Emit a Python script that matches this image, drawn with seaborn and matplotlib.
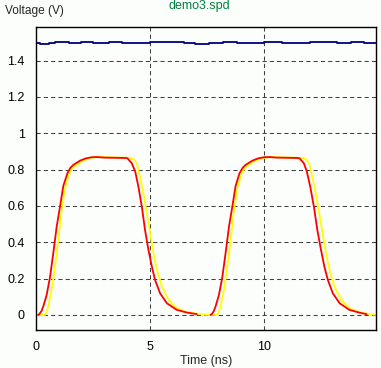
import numpy as np
import pandas as pd
import seaborn as sns
import matplotlib
matplotlib.use("Agg")
import matplotlib.pyplot as plt

# Red trace (two pulses)
red_t1 = [0.11, 0.16, 0.25, 0.33, 0.48, 0.63, 0.77, 0.92, 1.07, 1.21, 1.39, 1.52, 1.65, 1.94,
          2.20, 2.45, 2.70, 3.00, 3.50, 3.95, 4.02, 4.21, 4.36, 4.50, 4.65, 4.79, 4.94, 5.09,
          5.23, 5.45, 5.75, 6.18, 6.62, 7.06]
red_v1 = [0.0, 0.005, 0.02, 0.046, 0.11, 0.21, 0.34, 0.486, 0.60, 0.71, 0.78, 0.81, 0.826, 0.849,
          0.862, 0.868, 0.869, 0.866, 0.865, 0.864, 0.862, 0.835, 0.79, 0.706, 0.596, 0.468, 0.358, 0.266,
          0.193, 0.119, 0.064, 0.028, 0.013, 0.004]
red_t2 = [7.66, 7.72, 7.80, 7.88, 8.03, 8.18, 8.32, 8.47, 8.62, 8.76, 8.93, 9.07, 9.20, 9.49,
          9.75, 10.00, 10.25, 10.55, 11.05, 11.50, 11.56, 11.75, 11.88, 12.03, 12.19, 12.34, 12.50, 12.65,
          12.80, 13.02, 13.32, 13.74, 14.17, 14.50]
red_v2 = [0.0, 0.005, 0.02, 0.046, 0.11, 0.21, 0.34, 0.486, 0.60, 0.71, 0.78, 0.81, 0.826, 0.849,
          0.862, 0.868, 0.869, 0.866, 0.865, 0.864, 0.862, 0.835, 0.79, 0.706, 0.596, 0.468, 0.358, 0.266,
          0.193, 0.119, 0.064, 0.028, 0.013, 0.004]

# Yellow trace
yel_t = [0.0, 0.41, 0.48, 0.55, 0.70, 0.85, 0.99, 1.14, 1.29, 1.47, 1.62, 1.80, 2.00, 2.24, 2.50,
         2.75, 3.20, 3.70, 4.10, 4.28, 4.43, 4.57, 4.72, 4.87, 5.01, 5.16, 5.31, 5.53, 5.82, 6.18,
         6.62, 7.20, 7.50, 7.94, 8.02, 8.10, 8.25, 8.40, 8.54, 8.69, 8.84, 9.02, 9.17, 9.35, 9.55,
         9.79, 10.05, 10.30, 10.75, 11.25, 11.65, 11.83, 11.98, 12.12, 12.27, 12.42, 12.57, 12.72,
         12.87, 13.09, 13.38, 13.74, 14.17, 14.60, 14.93]
yel_v = [0.0, 0.0, 0.015, 0.046, 0.14, 0.27, 0.41, 0.58, 0.70, 0.78, 0.81, 0.826, 0.845, 0.857, 0.866,
         0.87, 0.868, 0.866, 0.865, 0.858, 0.835, 0.76, 0.67, 0.56, 0.45, 0.34, 0.248, 0.156, 0.083, 0.037,
         0.015, 0.005, 0.0, 0.0, 0.015, 0.046, 0.14, 0.27, 0.41, 0.58, 0.70, 0.78, 0.81, 0.826, 0.845,
         0.857, 0.866, 0.87, 0.868, 0.866, 0.865, 0.858, 0.835, 0.76, 0.67, 0.56, 0.45, 0.34,
         0.248, 0.156, 0.083, 0.037, 0.015, 0.005, 0.0]

# Blue trace (supply, ~1.5 V)
blue_t = [0, 0.2, 0.6, 0.85, 1.45, 2.0, 2.5, 3.2, 3.8, 4.5, 5.0, 5.8, 6.5, 7.0, 7.6, 8.2, 8.8,
          9.5, 10.0, 10.8, 11.4, 12.0, 12.6, 13.2, 13.8, 14.4, 14.93]
blue_v = [1.495, 1.49, 1.495, 1.50, 1.495, 1.50, 1.495, 1.50, 1.495, 1.495, 1.50, 1.50, 1.495, 1.49,
          1.495, 1.50, 1.495, 1.495, 1.50, 1.495, 1.495, 1.50, 1.50, 1.495, 1.50, 1.495, 1.495]

y_ticks = [0, 0.2, 0.4, 0.6, 0.8, 1, 1.2, 1.4]
y_labels = ["0", "0.2", "0.4", "0.6", "0.8", "1", "1.2", "1.4"]
x_ticks = [0, 5, 10]

red_df = pd.DataFrame({
    "t": red_t1 + red_t2,
    "v": red_v1 + red_v2,
    "seg": [1] * len(red_t1) + [2] * len(red_t2),
})
yel_df = pd.DataFrame({"t": yel_t, "v": yel_v})
blue_df = pd.DataFrame({"t": blue_t, "v": blue_v})

sns.set_style("white")
plt.rcParams["font.family"] = ["Liberation Sans", "DejaVu Sans"]

bg = "#fcfefc"
fig = plt.figure(figsize=(3.81, 3.68), dpi=100, facecolor=bg)
ax = fig.add_axes([0.0937, 0.1033, 0.8943, 0.8233], facecolor=bg)

# grid first, behind the traces
for y in y_ticks:
    ax.axhline(y, color="#404040", lw=0.75, ls=(0, (4, 3)), zorder=0)
for x in [5, 10]:
    ax.axvline(x, color="#404040", lw=0.75, ls=(0, (4, 3)), zorder=0)

sns.lineplot(data=blue_df, x="t", y="v", color="#000080", lw=1.3, drawstyle="steps-post",
             estimator=None, ax=ax)
sns.lineplot(data=yel_df, x="t", y="v", color="#ffff00", lw=1.3, estimator=None, ax=ax)
sns.lineplot(data=red_df, x="t", y="v", units="seg", color="#ff0000", lw=1.3,
             estimator=None, ax=ax)

ax.set_xlim(0, 14.93)
ax.set_ylim(-0.083, 1.585)
ax.set_xticks(x_ticks)
ax.set_xticklabels([str(x) for x in x_ticks])
ax.set_yticks(y_ticks)
ax.set_yticklabels(y_labels)
ax.tick_params(axis="x", length=0, labelsize=9, pad=8, colors="black")
ax.tick_params(axis="y", length=0, labelsize=9, pad=8, colors="black")
ax.set_xlabel("Time (ns)", fontsize=9, labelpad=1.5)
ax.set_ylabel("")
for s in ax.spines.values():
    s.set_color("black")
    s.set_linewidth(1.0)

fig.text(5 / 381, 1 - 11 / 368, "Voltage (V)", fontsize=8.6, va="center", ha="left")
fig.text(199 / 381, 1 - 6 / 368, "demo3.spd", fontsize=9.0, va="center", ha="center",
         color="#008040")

fig.savefig("out.png", dpi=100, facecolor=bg)
